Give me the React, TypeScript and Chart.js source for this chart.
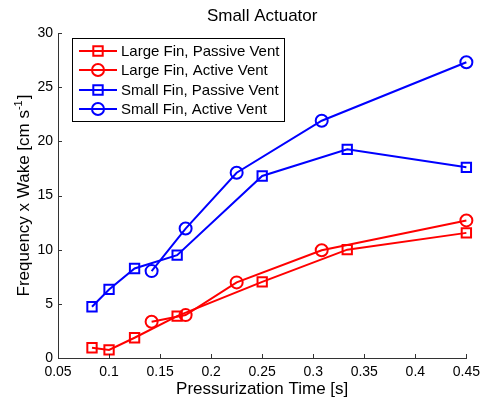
import React, { useEffect, useRef } from 'react';
import { Chart, registerables } from 'chart.js';

Chart.register(...registerables);

// ---- data ----
const passiveTimes = [0.0833, 0.1, 0.125, 0.1667, 0.25, 0.3333, 0.45];
const activeTimes = [0.1417, 0.175, 0.225, 0.3083, 0.45];
const largePassive = [0.95, 0.75, 1.87, 3.87, 7.03, 10.0, 11.55];
const largeActive = [3.35, 3.96, 6.98, 9.95, 12.7];
const smallPassive = [4.73, 6.33, 8.26, 9.49, 16.8, 19.26, 17.6];
const smallActive = [8.02, 11.95, 17.1, 21.9, 27.3];
const seriesLabels = [
  'Large Fin, Passive Vent',
  'Large Fin, Active Vent',
  'Small Fin, Passive Vent',
  'Small Fin, Active Vent',
];
const xTickValues = [0.05, 0.1, 0.15, 0.2, 0.25, 0.3, 0.35, 0.4, 0.45];
const xTickLabels = ['0.05', '0.1', '0.15', '0.2', '0.25', '0.3', '0.35', '0.4', '0.45'];
const yTickValues = [0, 5, 10, 15, 20, 25, 30];
const yTickLabels = ['0', '5', '10', '15', '20', '25', '30'];
const titleText = 'Small Actuator';
const xTitle = 'Pressurization Time [s]';
const yTitleMain = 'Frequency x Wake [cm s';
const yTitleSup = '-1';
const yTitleEnd = ']';

const FONT = '"Liberation Sans", Arial, Helvetica, sans-serif';
const AXIS = '#333333';
const RED = '#ff0000';
const BLUE = '#0000ff';

const pts = (xs: number[], ys: number[]) => xs.map((x, i) => ({ x, y: ys[i] }));

function drawMarker(ctx: CanvasRenderingContext2D, style: string, x: number, y: number, color: string) {
  ctx.save();
  ctx.strokeStyle = color;
  ctx.lineWidth = 2;
  ctx.beginPath();
  if (style === 'rect') {
    const s = 4.7;
    ctx.rect(x - s, y - s, 2 * s, 2 * s);
  } else {
    ctx.arc(x, y, 6, 0, Math.PI * 2);
  }
  ctx.stroke();
  ctx.restore();
}

const decorPlugin = {
  id: 'decor',
  afterDraw(chart: any) {
    const ctx: CanvasRenderingContext2D = chart.ctx;
    const area = chart.chartArea;
    const xs = chart.scales.x;
    const ys = chart.scales.y;
    ctx.save();
    // inward ticks
    ctx.strokeStyle = AXIS;
    ctx.lineWidth = 1;
    ctx.beginPath();
    xTickValues.forEach((v) => {
      const px = Math.round(xs.getPixelForValue(v)) + 0.5;
      ctx.moveTo(px, area.bottom);
      ctx.lineTo(px, area.bottom - 4);
    });
    yTickValues.forEach((v) => {
      const py = Math.round(ys.getPixelForValue(v)) + 0.5;
      ctx.moveTo(area.left, py);
      ctx.lineTo(area.left + 4, py);
    });
    ctx.stroke();

    // title
    ctx.fillStyle = '#000';
    ctx.font = `17px ${FONT}`;
    ctx.textAlign = 'center';
    ctx.textBaseline = 'alphabetic';
    ctx.fillText(titleText, (area.left + area.right) / 2, 21);

    // x title
    ctx.fillText(xTitle, (area.left + area.right) / 2, 394);

    // y title (rotated with superscript)
    ctx.save();
    ctx.translate(29, (area.top + area.bottom) / 2);
    ctx.rotate(-Math.PI / 2);
    ctx.textAlign = 'left';
    ctx.font = `17px ${FONT}`;
    const w1 = ctx.measureText(yTitleMain).width;
    const w3 = ctx.measureText(yTitleEnd).width;
    ctx.font = `11px ${FONT}`;
    const w2 = ctx.measureText(yTitleSup).width;
    const total = w1 + w2 + w3 + 1;
    let cx = -total / 2;
    ctx.font = `17px ${FONT}`;
    ctx.fillText(yTitleMain, cx, 0);
    cx += w1;
    ctx.font = `11px ${FONT}`;
    ctx.fillText(yTitleSup, cx, -7);
    cx += w2 + 1;
    ctx.font = `17px ${FONT}`;
    ctx.fillText(yTitleEnd, cx, 0);
    ctx.restore();

    // legend
    const lx = 72.5, ly = 38.5, lw = 212, lh = 83;
    ctx.fillStyle = '#fff';
    ctx.fillRect(lx, ly, lw, lh);
    ctx.strokeStyle = '#000';
    ctx.lineWidth = 1;
    ctx.strokeRect(lx, ly, lw, lh);
    const rows = [51, 70, 90, 109];
    chart.data.datasets.forEach((ds: any, i: number) => {
      const y = rows[i];
      ctx.strokeStyle = ds.borderColor;
      ctx.lineWidth = 2;
      ctx.beginPath();
      ctx.moveTo(79, y);
      ctx.lineTo(117, y);
      ctx.stroke();
      drawMarker(ctx, ds.pointStyle, 98, y, ds.borderColor);
      ctx.fillStyle = '#000';
      ctx.font = `15px ${FONT}`;
      ctx.textAlign = 'left';
      ctx.textBaseline = 'middle';
      ctx.fillText(ds.label, 121, y + 1);
    });
    ctx.restore();
  },
};

export default function App() {
  const ref = useRef<HTMLCanvasElement | null>(null);
  useEffect(() => {
    if (!ref.current) return;
    const mk = (label: string, data: any[], color: string, style: string) => ({
      label,
      data,
      borderColor: color,
      backgroundColor: 'rgba(0,0,0,0)',
      borderWidth: 2,
      pointStyle: style,
      pointRadius: style === 'rect' ? 6.6 : 6,
      pointBorderWidth: 2,
      pointBackgroundColor: 'rgba(0,0,0,0)',
      pointBorderColor: color,
      tension: 0,
      clip: false,
    });
    const chart = new Chart(ref.current, {
      type: 'line',
      data: {
        datasets: [
          mk(seriesLabels[0], pts(passiveTimes, largePassive), RED, 'rect'),
          mk(seriesLabels[1], pts(activeTimes, largeActive), RED, 'circle'),
          mk(seriesLabels[2], pts(passiveTimes, smallPassive), BLUE, 'rect'),
          mk(seriesLabels[3], pts(activeTimes, smallActive), BLUE, 'circle'),
        ] as any,
      },
      options: {
        animation: false,
        responsive: false,
        layout: { padding: { top: 33, right: 16, left: 0, bottom: 0 } },
        plugins: { legend: { display: false }, title: { display: false }, tooltip: { enabled: false } },
        scales: {
          x: {
            type: 'linear',
            min: 0.05,
            max: 0.45,
            grid: { display: false, drawTicks: false },
            border: { display: true, color: AXIS, width: 1 },
            afterBuildTicks: (s: any) => { s.ticks = xTickValues.map((v) => ({ value: v })); },
            afterFit: (s: any) => { s.height = 41; },
            ticks: {
              color: '#000',
              font: { family: FONT, size: 14 },
              padding: 6,
              maxRotation: 0,
              autoSkip: false,
              callback: (_v: any, i: number) => xTickLabels[i],
            },
          },
          y: {
            type: 'linear',
            min: 0,
            max: 30,
            grid: { display: false, drawTicks: false },
            border: { display: true, color: AXIS, width: 1 },
            afterBuildTicks: (s: any) => { s.ticks = yTickValues.map((v) => ({ value: v })); },
            afterFit: (s: any) => { s.width = 58; },
            ticks: {
              color: '#000',
              font: { family: FONT, size: 14 },
              padding: 5,
              autoSkip: false,
              callback: (_v: any, i: number) => yTickLabels[i],
            },
          },
        },
      },
      plugins: [decorPlugin],
    } as any);
    return () => chart.destroy();
  }, []);
  return (
    <div style={{ position: 'fixed', left: 0, top: 0, width: 486, height: 399, background: '#fff' }}>
      <canvas ref={ref} width={486} height={399} style={{ display: 'block', width: 486, height: 399 }} />
    </div>
  );
}
